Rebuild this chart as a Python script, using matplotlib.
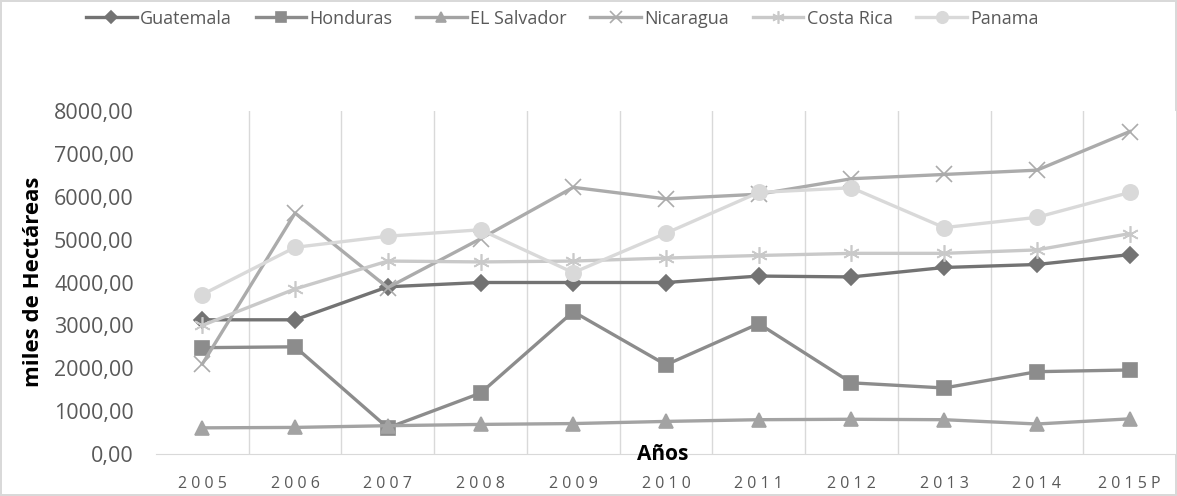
import numpy as np
import matplotlib
matplotlib.use("Agg")
import matplotlib.pyplot as plt
from matplotlib.ticker import FuncFormatter, MultipleLocator

# datos (miles de hectáreas)
anios = ["2005", "2006", "2007", "2008", "2009", "2010", "2011", "2012", "2013", "2014", "2015P"]
guatemala = [3130, 3130, 3900, 4000, 4000, 4000, 4150, 4130, 4350, 4420, 4650]
honduras = [2480, 2500, 610, 1420, 3320, 2080, 3040, 1660, 1540, 1920, 1960]
el_salvador = [610, 620, 660, 690, 710, 760, 800, 810, 800, 700, 820]
nicaragua = [2100, 5620, 3880, 5020, 6220, 5950, 6060, 6420, 6520, 6620, 7520]
costa_rica = [3000, 3850, 4500, 4480, 4500, 4570, 4630, 4680, 4680, 4760, 5140]
panama = [3720, 4820, 5080, 5230, 4230, 5150, 6100, 6210, 5280, 5520, 6100]

series = [
    ("Guatemala", guatemala, "#737373", "D", 8),
    ("Honduras", honduras, "#8c8c8c", "s", 10),
    ("EL Salvador", el_salvador, "#a3a3a3", "^", 10),
    ("Nicaragua", nicaragua, "#ababab", "x", 11),
    ("Costa Rica", costa_rica, "#c9c9c9", (6, 2, 0), 12),
    ("Panama", panama, "#d9d9d9", "o", 11),
]

plt.rcParams['font.family'] = ['Open Sans', 'DejaVu Sans']

fig = plt.figure(figsize=(11.77, 4.96), dpi=100)
fig.patch.set_edgecolor("#d9d9d9")
fig.patch.set_linewidth(1.5)
ax = fig.add_axes([156 / 1177, 1 - 454 / 496, 1020 / 1177, 343 / 496])

x = np.arange(len(anios))
for nombre, valores, color, marker, ms in series:
    ax.plot(x, valores, color=color, lw=2.4, marker=marker, markersize=ms,
            markeredgecolor=color, markerfacecolor=color, markeredgewidth=1.2,
            label=nombre)

ax.set_xlim(-0.5, len(anios) - 0.5)
ax.set_ylim(0, 8000)
ax.yaxis.set_major_locator(MultipleLocator(1000))
ax.yaxis.set_major_formatter(FuncFormatter(lambda v, p: "{:.2f}".format(v).replace(".", ",")))
ax.set_xticks(x)
ax.set_xticklabels([" ".join(a) for a in anios])
ax.set_xticks(np.arange(0.5, len(anios) - 0.5, 1), minor=True)
ax.grid(which="minor", axis="x", color="#d9d9d9", lw=1)
ax.tick_params(which="both", length=0)
ax.tick_params(axis="y", labelsize=15.5, labelcolor="#595959", pad=16)
ax.tick_params(axis="x", labelsize=11.5, labelcolor="#595959", pad=16)
for s in ["top", "right", "left"]:
    ax.spines[s].set_visible(False)
ax.spines["bottom"].set_color("#d9d9d9")

fig.text(34 / 1177, 1 - 282 / 496, "miles de Hectáreas", rotation=90, ha="center", va="center",
         fontsize=16, fontweight="bold", color="black")
fig.text(663 / 1177, 1 - 455 / 496, "Años", ha="center", va="center",
         fontsize=15, fontweight="bold", color="black")

fig.legend(loc="upper center", bbox_to_anchor=(0.478, 1.013), ncol=6, frameon=False,
           fontsize=13, labelcolor="#595959", handlelength=2.8, columnspacing=1.3,
           handletextpad=0.2, markerscale=0.75)

fig.savefig("out.png", dpi=100)
